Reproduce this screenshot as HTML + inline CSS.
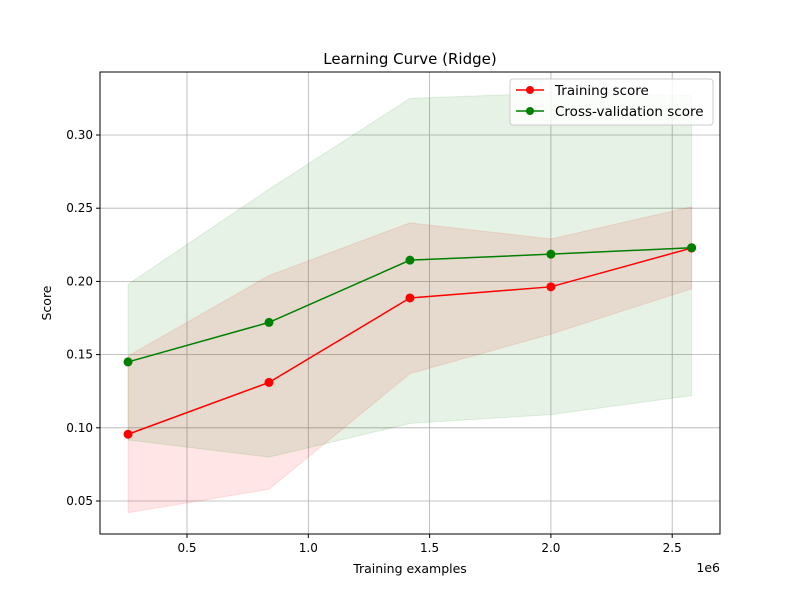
<!DOCTYPE html>
<html><head><meta charset="utf-8"><style>
body{margin:0;background:#fff;}
svg text{font-family:"DejaVu Sans","Liberation Sans",sans-serif;fill:#000;}
</style></head><body>
<svg id="chart" width="800" height="600" xmlns="http://www.w3.org/2000/svg">
<rect width="800" height="600" fill="#fff"/>
<g id="grid"></g>
<g id="bands"></g>
<g id="lines"></g>
<g id="axes"></g>
<text x="410" y="64" font-size="15" text-anchor="middle">Learning Curve (Ridge)</text>
<text x="410" y="573" font-size="12.5" text-anchor="middle">Training examples</text>
<text x="51" y="303" font-size="12.5" text-anchor="middle" transform="rotate(-90 51 303)">Score</text>
<text x="720" y="572" font-size="12.5" text-anchor="end">1e6</text>
<g>
<rect x="510" y="79" width="203" height="46" rx="3" fill="#fff" fill-opacity="0.8" stroke="#ccc"/>
<line x1="516" y1="90" x2="544" y2="90" stroke="red" stroke-width="1.5"/><circle cx="530" cy="90" r="4" fill="red"/>
<text x="555" y="95" font-size="13.5">Training score</text>
<line x1="516" y1="111" x2="544" y2="111" stroke="green" stroke-width="1.5"/><circle cx="530" cy="111" r="4" fill="green"/>
<text x="555" y="116" font-size="13.5">Cross-validation score</text>
</g>
</svg>
<script>
const sizes=[0.257,0.838,1.419,2.0,2.58];
const trainMean=[0.0956,0.131,0.1887,0.1963,0.2228];
const trainUpper=[0.149,0.204,0.240,0.229,0.251];
const trainLower=[0.042,0.058,0.137,0.164,0.195];
const cvMean=[0.145,0.172,0.2145,0.2186,0.223];
const cvUpper=[0.198,0.263,0.325,0.3286,0.327];
const cvLower=[0.0917,0.080,0.103,0.109,0.122];
const xTicks=[0.5,1.0,1.5,2.0,2.5];
const xTickLabels=["0.5","1.0","1.5","2.0","2.5"];
const yTicks=[0.05,0.10,0.15,0.20,0.25,0.30];
const yTickLabels=["0.05","0.10","0.15","0.20","0.25","0.30"];
const L=100,R=720,T=72,B=534;
const X=v=>65.7+v*242.6;
const Y=v=>574.2-v*1464;
const NS="http://www.w3.org/2000/svg";
function mk(tag,attrs,parent){const e=document.createElementNS(NS,tag);for(const k in attrs)e.setAttribute(k,attrs[k]);document.getElementById(parent).appendChild(e);return e;}
xTicks.forEach((t,i)=>{
 const g=mk('line',{x1:X(t),x2:X(t),y1:T,y2:B,stroke:'#b0b0b0','stroke-width':0.8},'grid');
 
 
 const k=mk('line',{x1:X(t),x2:X(t),y1:B,y2:B+4,stroke:'#000'},'axes');
 
 
 const tx=mk('text',{x:X(t),y:B+18,'font-size':12,'text-anchor':'middle'},'axes');tx.textContent=xTickLabels[i];
 
 
});
yTicks.forEach((t,i)=>{
 const g=mk('line',{x1:L,x2:R,y1:Y(t),y2:Y(t),stroke:'#b0b0b0','stroke-width':0.8},'grid');
 
 
 const k=mk('line',{x1:L-4,x2:L,y1:Y(t),y2:Y(t),stroke:'#000'},'axes');
 
 
 const tx=mk('text',{x:L-7,y:Y(t)+4,'font-size':12,'text-anchor':'end'},'axes');tx.textContent=yTickLabels[i];
 
 
});
const fr=mk('rect',{x:L,y:T,width:R-L,height:B-T,fill:'none',stroke:'#000','stroke-width':1},'axes');


function band(up,lo,color){
 const pts=sizes.map((s,i)=>X(s)+','+Y(up[i])).concat(sizes.map((s,i)=>X(s)+','+Y(lo[i])).reverse());
 return mk('polygon',{points:pts.join(' '),fill:color,'fill-opacity':0.1,stroke:color,'stroke-opacity':0.1},'bands');
}
const b1=band(trainUpper,trainLower,'red');


const b2=band(cvUpper,cvLower,'green');


function series(vals,color,name){
 const l=mk('polyline',{points:sizes.map((s,i)=>X(s)+','+Y(vals[i])).join(' '),fill:'none',stroke:color,'stroke-width':1.5},'lines');
 
 
 sizes.forEach((s,i)=>{
  const c=mk('circle',{cx:X(s),cy:Y(vals[i]),r:4.5,fill:color},'lines');
  
  
 });
}
series(trainMean,'red','training');
series(cvMean,'green','cv');
</script>
</body></html>
